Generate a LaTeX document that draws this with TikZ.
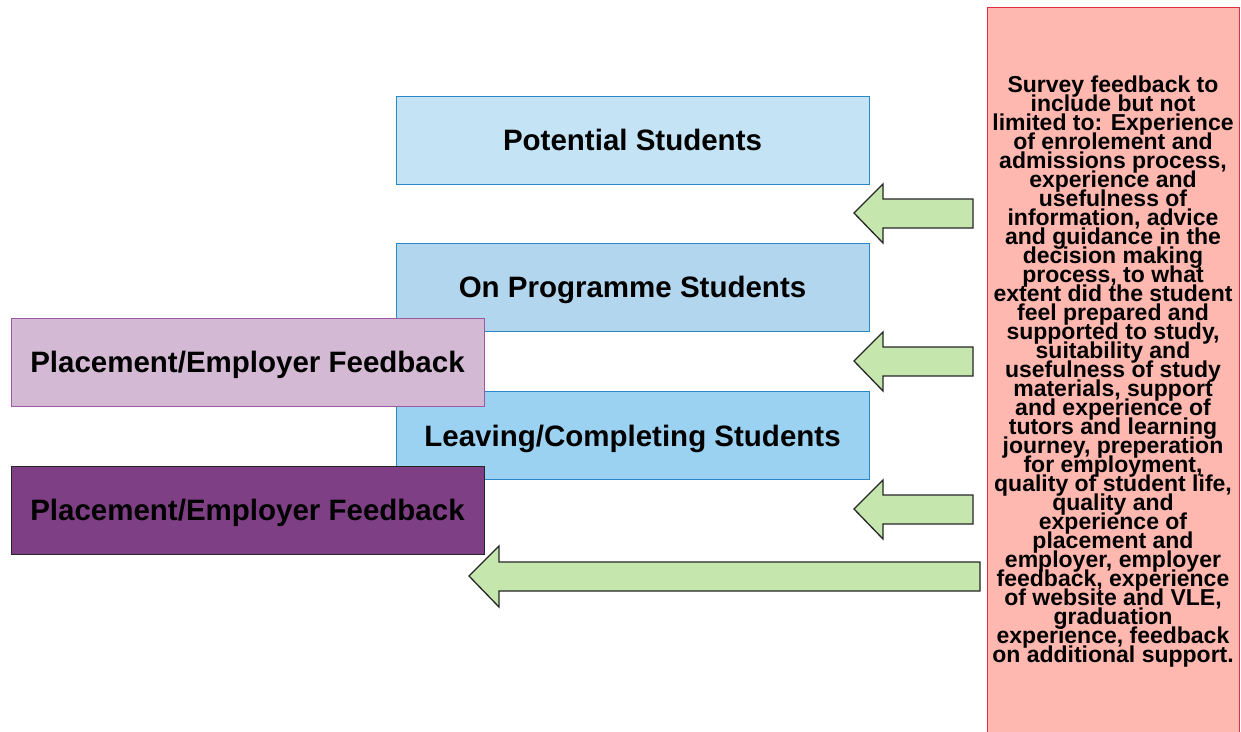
\documentclass[tikz,border=0pt]{standalone}
\usepackage{fontspec}
\setmainfont{Liberation Sans}
\usetikzlibrary{positioning}
\definecolor{potfill}{HTML}{C4E4F6}
\definecolor{onfill}{HTML}{B3D6EF}
\definecolor{leavefill}{HTML}{9BD2F2}
\definecolor{blueborder}{HTML}{2B88C6}
\definecolor{lightpurple}{HTML}{D3B9D3}
\definecolor{lightpurpleborder}{HTML}{9B59A0}
\definecolor{darkpurple}{HTML}{7F3F85}
\definecolor{greenfill}{HTML}{C5E6AD}
\definecolor{redfill}{HTML}{FFB8B0}
\definecolor{redborder}{HTML}{E03040}
\newcommand\surveyfont{\fontsize{23}{19}\selectfont\bfseries\lineskiplimit=-100pt\relax\lineskip=0pt\relax}
\tikzset{
  stagebox/.style={draw=blueborder, line width=1pt, minimum width=473pt, minimum height=88pt,
    inner sep=0pt, text height=21pt, text depth=0pt, font=\fontsize{29.5}{32}\selectfont\bfseries},
  feedbox/.style={line width=1pt, minimum width=473pt, minimum height=88pt,
    inner sep=0pt, text height=21pt, text depth=0pt, font=\fontsize{29.5}{32}\selectfont\bfseries},
  blockarrow/.style={draw=black!85, line width=1.3pt, fill=greenfill, line join=miter},
}
\begin{document}
\begin{tikzpicture}[x=1pt,y=-1pt]
\useasboundingbox (0,0) rectangle (1241,731);
% stage boxes
\node[stagebox, fill=potfill] (pot) at (632.5,140) {Potential Students};
\node[stagebox, fill=onfill] (onp) at (632.5,287) {On Programme Students};
\node[stagebox, fill=leavefill] (leave) at (632.5,435.5) {Leaving/Completing Students};
% feedback boxes
\node[feedbox, draw=lightpurpleborder, fill=lightpurple] (pl1) at (247.5,362) {Placement/Employer Feedback};
\node[feedbox, draw=black!85, fill=darkpurple] (pl2) at (247.5,510) {Placement/Employer Feedback};
% survey box (runs off bottom edge)
\node[draw=redborder, fill=redfill, line width=1pt, minimum width=252pt, minimum height=740pt,
  anchor=north west, inner sep=0pt] (survey) at (987,7) {};
\node[align=center, font=\surveyfont, inner sep=0pt] (surveytext) at (1113,371.5) {%
Survey feedback to\\include but not\\limited to: Experience\\of enrolement and\\admissions process,\\experience and\\usefulness of\\information, advice\\and guidance in the\\decision making\\process, to what\\extent did the student\\feel prepared and\\supported to study,\\suitability and\\usefulness of study\\materials, support\\and experience of\\tutors and learning\\journey, preperation\\for employment,\\quality of student life,\\quality and\\experience of\\placement and\\employer, employer\\feedback, experience\\of website and VLE,\\graduation\\experience, feedback\\on additional support.};
% arrows from survey to stages
\foreach \yy/\nm in {213/a1,361/a2,509/a3}{
  \draw[blockarrow] (854,\yy) -- (883,\yy-29) -- (883,\yy-14) -- (973,\yy-14)
    -- (973,\yy+15) -- (883,\yy+15) -- (883,\yy+30) -- cycle;
}
\draw[blockarrow] (469,576) -- (499,546) -- (499,562) -- (980,562)
    -- (980,591) -- (499,591) -- (499,607) -- cycle;
\end{tikzpicture}
\end{document}
